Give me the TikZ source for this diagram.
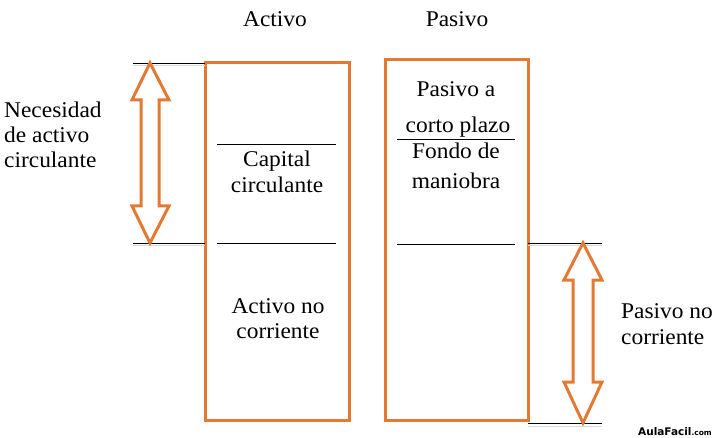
\documentclass[tikz,border=0pt]{standalone}
\usepackage{fontspec}
\setmainfont{Liberation Serif}[FakeStretch=1.04]
\newfontfamily\logofont{DejaVu Sans}
\definecolor{boxorange}{RGB}{226,122,52}
\begin{document}
\begin{tikzpicture}[x=1pt,y=-1pt,
  lbl/.style={font=\fontsize{22.5}{25}\selectfont, inner sep=0pt, anchor=base},
  lbll/.style={lbl, anchor=base west},
  obox/.style={draw=boxorange, line width=3pt},
  thin/.style={draw=black, line width=0.9pt},
  shade/.style={draw=black!15, line width=1pt},
  darrow/.style={draw=boxorange, line width=3pt, fill=white, line join=miter}]
\useasboundingbox[fill=white] (0,0) rectangle (717,438);
% boxes
\draw[obox] (205,63) rectangle (349,420);
\draw[obox] (385,60) rectangle (528,420);
% outer reference lines
\draw[shade] (133,66) -- (205,66);
\draw[thin] (133,63) -- (205,63);
\draw[shade] (133,246) -- (205,246);
\draw[thin] (133,243) -- (205,243);
\draw[shade] (528,246) -- (602,246);
\draw[thin] (528,243) -- (602,243);
\draw[shade] (528,426) -- (602,426);
\draw[thin] (528,423) -- (602,423);
% inner lines
\draw[thin] (217,144) -- (336,144);
\draw[thin] (217,243) -- (336,243);
\draw[thin] (397,139) -- (515,139);
\draw[thin] (397,244) -- (515,244);
% arrows
\draw[darrow] (150,63) -- (169,100) -- (159,100) -- (159,206) -- (169,206)
  -- (150,243) -- (132,206) -- (141,206) -- (141,100) -- (132,100) -- cycle;
\draw[darrow] (583,243) -- (602,280) -- (593,280) -- (593,382) -- (602,382)
  -- (583,423) -- (564,382) -- (573,382) -- (573,280) -- (564,280) -- cycle;
% texts
\node[lbl] (activo) at (275,27) {Activo};
\node[lbl] (pasivo) at (457,27) {Pasivo};
\node[lbll] (nec1) at (4,118) {Necesidad};
\node[lbll] (nec2) at (4,143) {de activo};
\node[lbll] (nec3) at (4,168) {circulante};
\node[lbl] (cap1) at (277,167) {Capital};
\node[lbl] (cap2) at (277,193) {circulante};
\node[lbl] (anc1) at (278,313) {Activo no};
\node[lbl] (anc2) at (278,338) {corriente};
\node[lbl] (pc1) at (456,97) {Pasivo a};
\node[lbl] (pc2) at (458,133) {corto plazo};
\node[lbl] (fm1) at (456,159) {Fondo de};
\node[lbl] (fm2) at (456,189) {maniobra};
\node[lbll] (pnc1) at (621,318) {Pasivo no};
\node[lbll] (pnc2) at (621,344) {corriente};
\node[anchor=base east, inner sep=0pt] (logo) at (712,435)
  {\logofont\bfseries\fontsize{10.5}{12}\selectfont AulaFacil\fontsize{7.5}{9}\selectfont.com};
\end{tikzpicture}
\end{document}
